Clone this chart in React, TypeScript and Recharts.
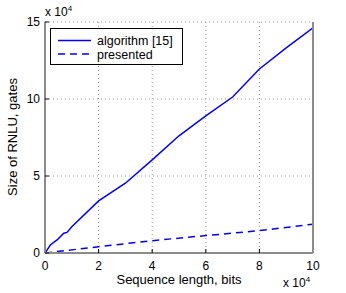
import { LineChart, Line, XAxis, YAxis, CartesianGrid, Legend } from "recharts";

// algorithm [15]
const algLength = [0, 2000, 4500, 7000, 8200, 10000, 20000, 30000, 40000, 50000, 60000, 70000, 80000, 90000, 100000];
const algGates = [0, 5200, 8500, 12800, 13400, 17100, 33800, 45300, 60500, 76100, 89000, 101300, 119500, 133200, 146200];

// presented
const presLength = [0, 20000, 40000, 60000, 80000, 100000];
const presGates = [0, 4100, 8000, 11300, 14500, 18700];

const xTicks = [0, 20000, 40000, 60000, 80000, 100000];
const yTicks = [0, 50000, 100000, 150000];

const algData = algLength.map((x, i) => ({ x, y: algGates[i] }));
const presData = presLength.map((x, i) => ({ x, y: presGates[i] }));

const FONT = "'Liberation Sans', Arial, Helvetica, sans-serif";
const BLUE = "#0000ff";
const EDGE = "#8c8c8c";

const scaled = (v: number) => `${v / 10000}`;
const blank = () => "";

function LegendBox() {
  return (
    <div
      style={{
        position: "absolute",
        left: 50,
        top: 28,
        width: 131,
        height: 35,
        border: "1px solid #000",
        background: "#fff",
        fontFamily: FONT,
      }}
    >
      <svg width={131} height={35} style={{ position: "absolute", left: 0, top: 0 }}>
        <line x1={7} x2={40} y1={11.5} y2={11.5} stroke={BLUE} strokeWidth={1.5} />
        <line x1={7} x2={40} y1={25} y2={25} stroke={BLUE} strokeWidth={1.5} strokeDasharray="7 5" />
        <text x={46} y={16} fontSize={12.5} fill="#000">algorithm [15]</text>
        <text x={46} y={29.5} fontSize={12.5} fill="#000">presented</text>
      </svg>
    </div>
  );
}

export default function App() {
  return (
    <div style={{ position: "absolute", left: 0, top: 0, width: 346, height: 293, background: "#fff", fontFamily: FONT }}>
      <LineChart width={346} height={293} margin={{ top: 22, right: 0, bottom: 0, left: 0 }} style={{ fontFamily: FONT }}>
        <CartesianGrid stroke="#999" strokeDasharray="1 3" />
        <XAxis
          dataKey="x"
          type="number"
          domain={[0, 100000]}
          ticks={xTicks}
          tickFormatter={scaled}
          height={40}
          tickSize={-4}
          tickMargin={12}
          axisLine={{ stroke: EDGE, strokeWidth: 2 }}
          tickLine={{ stroke: "#000" }}
          tick={{ fontSize: 12, fill: "#000" }}
          allowDataOverflow
        />
        <XAxis
          xAxisId="top"
          orientation="top"
          type="number"
          domain={[0, 100000]}
          ticks={xTicks}
          tickFormatter={blank}
          height={0}
          tickSize={-4}
          axisLine={{ stroke: "#000", strokeWidth: 1 }}
          tickLine={{ stroke: "#000" }}
        />
        <YAxis
          type="number"
          domain={[0, 150000]}
          ticks={yTicks}
          tickFormatter={scaled}
          width={45}
          tickSize={-4}
          tickMargin={9}
          axisLine={{ stroke: EDGE, strokeWidth: 2 }}
          tickLine={{ stroke: "#000" }}
          tick={{ fontSize: 12, fill: "#000" }}
          allowDataOverflow
        />
        <YAxis
          yAxisId="right"
          orientation="right"
          type="number"
          domain={[0, 150000]}
          ticks={yTicks}
          tickFormatter={blank}
          width={33}
          tickSize={-4}
          axisLine={{ stroke: EDGE, strokeWidth: 2 }}
          tickLine={{ stroke: "#000" }}
        />
        <Legend content={() => null} />
        <Line data={algData} dataKey="y" name="algorithm [15]" type="linear" stroke={BLUE} strokeWidth={1.5} dot={false} isAnimationActive={false} />
        <Line data={presData} dataKey="y" name="presented" type="linear" stroke={BLUE} strokeWidth={1.5} strokeDasharray="7 5" dot={false} isAnimationActive={false} />
      </LineChart>

      <LegendBox />

      <div style={{ position: "absolute", left: 45, top: 4, fontSize: 12, whiteSpace: "nowrap" }}>
        x 10<sup style={{ fontSize: 8, verticalAlign: 5 }}>4</sup>
      </div>
      <div style={{ position: "absolute", left: 283, top: 275, fontSize: 12, whiteSpace: "nowrap" }}>
        x 10<sup style={{ fontSize: 8, verticalAlign: 5 }}>4</sup>
      </div>
      <div style={{ position: "absolute", left: 0, width: 358, top: 272, textAlign: "center", fontSize: 13 }}>
        Sequence length, bits
      </div>
      <div
        style={{
          position: "absolute",
          left: 12,
          top: 137,
          fontSize: 13,
          whiteSpace: "nowrap",
          transform: "translate(-50%, -50%) rotate(-90deg)",
        }}
      >
        Size of RNLU, gates
      </div>
    </div>
  );
}
